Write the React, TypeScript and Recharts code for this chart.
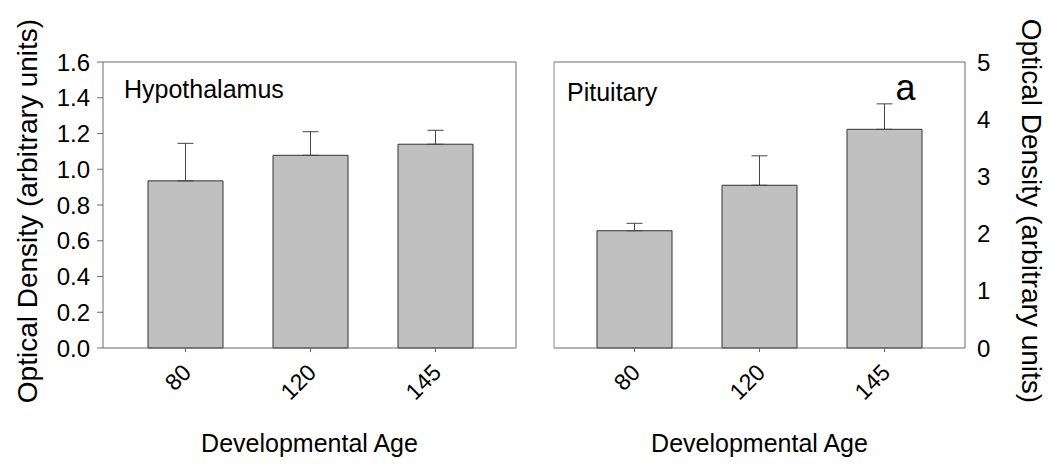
import React from 'react';
import { BarChart, Bar, XAxis, YAxis, ErrorBar, Label, LabelList } from 'recharts';

const categories = ['80', '120', '145'];
const hypoMeans = [0.935, 1.078, 1.14];
const hypoErr = [0.21, 0.132, 0.078];
const pitMeans = [2.05, 2.845, 3.823];
const pitErr = [0.13, 0.515, 0.445];
const pitSig = ['', '', 'a'];
const hypoTicks = [0, 0.2, 0.4, 0.6, 0.8, 1.0, 1.2, 1.4, 1.6];
const pitTicks = [0, 1, 2, 3, 4, 5];

const hypoData = categories.map((c, i) => ({ cat: c, v: hypoMeans[i], e: [0, hypoErr[i]] }));
const pitData = categories.map((c, i) => ({ cat: c, v: pitMeans[i], e: [0, pitErr[i]], sig: pitSig[i] }));

const FONT = '"Liberation Sans", Arial, Helvetica, sans-serif';
const FRAME = '#6a6a6a';
const BAR_FILL = '#c0c0c0';
const BAR_STROKE = '#333333';
const YLABEL = 'Optical Density (arbitrary units)';
const XLABEL = 'Developmental Age';

function XTick(props: any) {
  const { x, y, payload } = props;
  return (
    <text
      x={0}
      y={0}
      transform={`translate(${x + 7},${y + 20}) rotate(-45)`}
      textAnchor="end"
      fontSize={23}
      fontFamily={FONT}
      fill="#000"
    >
      {payload.value}
    </text>
  );
}

function SigLabel(props: any) {
  const { x, y, width, value } = props;
  if (!value) return null;
  return (
    <text x={x + width / 2 + 21} y={y - 29} textAnchor="middle" fontSize={36} fontFamily={FONT} fill="#000">
      {value}
    </text>
  );
}

const tickStyle = { fontSize: 24, fontFamily: FONT, fill: '#000' };

export default function App() {
  return (
    <div style={{ position: 'absolute', left: 0, top: 0, width: 1050, height: 465, background: '#fff' }}>
      <div style={{ position: 'absolute', left: 0, top: 0 }}>
        <BarChart
          width={1050}
          height={465}
          data={hypoData}
          margin={{ left: 23, right: 533, top: 61, bottom: 7 }}
          barCategoryGap="20%"
        >
          <XAxis
            dataKey="cat"
            height={110}
            padding={{ left: 20, right: 18 }}
            tickSize={4}
            tickMargin={2}
            tick={<XTick />}
            axisLine={{ stroke: FRAME }}
            tickLine={{ stroke: FRAME }}
            interval={0}
          >
            <Label
              content={(p: any) => {
                const vb = p.viewBox;
                return (
                  <text x={vb.x + vb.width / 2} y={vb.y + 104} textAnchor="middle" fontSize={25} fontFamily={FONT} fill="#000">
                    {XLABEL}
                  </text>
                );
              }}
            />
          </XAxis>
          <XAxis xAxisId="top" dataKey="cat" orientation="top" height={1} tick={false} tickLine={false} axisLine={{ stroke: FRAME }} padding={{ left: 20, right: 18 }}>
            <Label
              content={(p: any) => {
                const vb = p.viewBox;
                return (
                  <text x={vb.x + 21} y={vb.y + vb.height + 36} fontSize={25} fontFamily={FONT} fill="#000">
                    Hypothalamus
                  </text>
                );
              }}
            />
          </XAxis>
          <YAxis
            width={80}
            domain={[0, 1.6]}
            ticks={hypoTicks}
            tickFormatter={(v: number) => v.toFixed(1)}
            tick={tickStyle}
            tickSize={6}
            tickMargin={7}
            axisLine={{ stroke: FRAME }}
            tickLine={{ stroke: FRAME }}
            interval={0}
          >
            <Label
              content={(p: any) => {
                const vb = p.viewBox;
                const cx = vb.x + 14;
                const cy = vb.y + vb.height / 2 + 6;
                return (
                  <text x={cx} y={cy} transform={`rotate(-90 ${cx} ${cy})`} textAnchor="middle" fontSize={28} fontFamily={FONT} fill="#000">
                    {YLABEL}
                  </text>
                );
              }}
            />
          </YAxis>
          <YAxis yAxisId="frame" orientation="right" width={1} domain={[0, 1.6]} tick={false} tickLine={false} axisLine={{ stroke: FRAME }} />
          <Bar dataKey="v" fill={BAR_FILL} stroke={BAR_STROKE} strokeWidth={1} isAnimationActive={false}>
            <ErrorBar dataKey="e" direction="y" width={8} stroke="#444" strokeWidth={1} isAnimationActive={false} />
          </Bar>
        </BarChart>
      </div>
      <div style={{ position: 'absolute', left: 0, top: 0 }}>
        <BarChart
          width={1050}
          height={465}
          data={pitData}
          margin={{ left: 553, right: 0, top: 61, bottom: 7 }}
          barCategoryGap="20%"
        >
          <XAxis
            dataKey="cat"
            height={110}
            padding={{ left: 18, right: 18 }}
            tickSize={4}
            tickMargin={2}
            tick={<XTick />}
            axisLine={{ stroke: FRAME }}
            tickLine={{ stroke: FRAME }}
            interval={0}
          >
            <Label
              content={(p: any) => {
                const vb = p.viewBox;
                return (
                  <text x={vb.x + vb.width / 2} y={vb.y + 104} textAnchor="middle" fontSize={25} fontFamily={FONT} fill="#000">
                    {XLABEL}
                  </text>
                );
              }}
            />
          </XAxis>
          <XAxis xAxisId="top" dataKey="cat" orientation="top" height={1} tick={false} tickLine={false} axisLine={{ stroke: FRAME }} padding={{ left: 18, right: 18 }}>
            <Label
              content={(p: any) => {
                const vb = p.viewBox;
                return (
                  <text x={vb.x + 13} y={vb.y + vb.height + 39} fontSize={25} fontFamily={FONT} fill="#000">
                    Pituitary
                  </text>
                );
              }}
            />
          </XAxis>
          <YAxis yAxisId="frame" orientation="left" width={1} domain={[0, 5]} tick={false} tickLine={false} axisLine={{ stroke: '#8a8a8a' }} />
          <YAxis
            orientation="right"
            width={85}
            domain={[0, 5]}
            ticks={pitTicks}
            tick={tickStyle}
            tickSize={0}
            tickMargin={12}
            tickLine={false}
            axisLine={{ stroke: FRAME }}
            interval={0}
          >
            <Label
              content={(p: any) => {
                const vb = p.viewBox;
                const cx = vb.x + 57;
                const cy = vb.y + vb.height / 2 + 6;
                return (
                  <text x={cx} y={cy} transform={`rotate(90 ${cx} ${cy})`} textAnchor="middle" fontSize={28} fontFamily={FONT} fill="#000">
                    {YLABEL}
                  </text>
                );
              }}
            />
          </YAxis>
          <Bar dataKey="v" fill={BAR_FILL} stroke={BAR_STROKE} strokeWidth={1} isAnimationActive={false}>
            <ErrorBar dataKey="e" direction="y" width={8} stroke="#444" strokeWidth={1} isAnimationActive={false} />
            <LabelList dataKey="sig" content={<SigLabel />} />
          </Bar>
        </BarChart>
      </div>
    </div>
  );
}
